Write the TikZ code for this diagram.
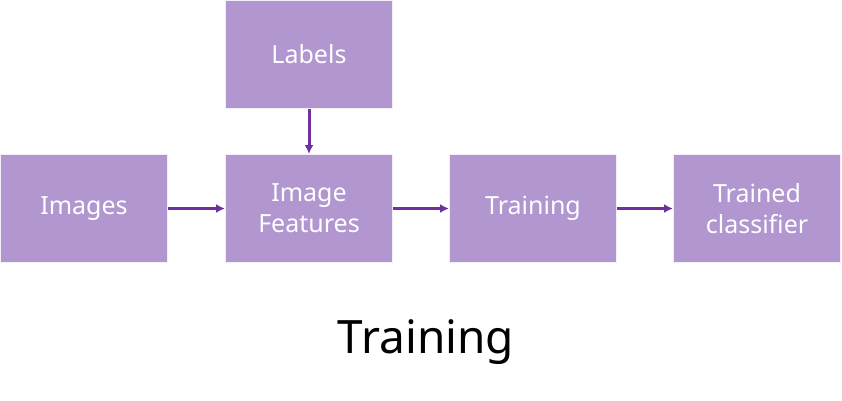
\documentclass[tikz,border=0pt]{standalone}
\usepackage{fontspec}
\usetikzlibrary{arrows.meta}
\setmainfont{Noto Sans}
\definecolor{boxfill}{HTML}{B196D0}
\definecolor{arr}{HTML}{7030A0}
\begin{document}
\begin{tikzpicture}[x=1pt,y=-1pt,
  box/.style={draw=white!85!boxfill,line width=1pt,fill=boxfill,minimum width=167pt,minimum height=108pt,inner sep=0pt,text=white,font=\fontsize{25}{31}\selectfont,align=center,anchor=north west},
  conn/.style={draw=arr,line width=3pt,-{Latex[length=9pt,width=9pt]}}]
\useasboundingbox (0,0) rectangle (842,400);
\node[box] (labels) at (225,0) {Labels};
\node[box] (images) at (0,154) {Images};
\node[box] (feat) at (225,154) {Image\\Features};
\node[box] (train) at (449,154) {Training};
\node[box] (clf) at (673,154) {Trained\\classifier};
\node[font=\fontsize{46}{54}\selectfont] (title) at (426,342) {Training};
\draw[conn] (labels) -- (feat);
\draw[conn] (images) -- (feat);
\draw[conn] (feat) -- (train);
\draw[conn] (train) -- (clf);
\end{tikzpicture}
\end{document}
